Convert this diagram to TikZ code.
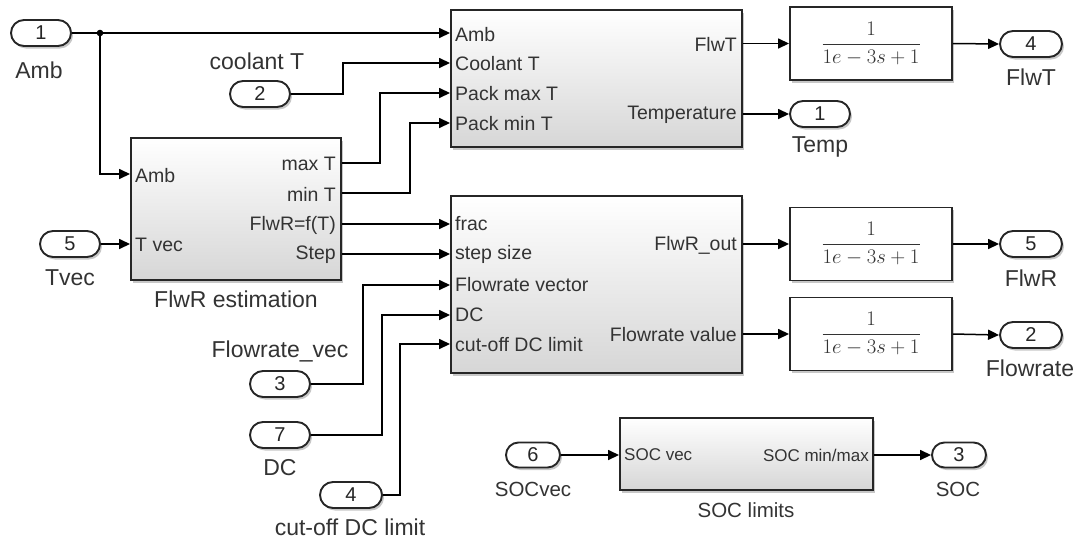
\documentclass[tikz,border=0pt]{standalone}
\usepackage{fontspec}
\setmainfont{Liberation Sans}
\usetikzlibrary{arrows.meta,shadows,shapes.misc}
\begin{document}
\begin{tikzpicture}[x=1pt,y=-1pt,
  wire/.style={line width=1.5pt, draw=black, -{Triangle[length=11pt,width=10pt]}},
  plain/.style={line width=1.5pt, draw=black},
  shad/.style={drop shadow={shadow xshift=2pt,shadow yshift=-2.5pt,opacity=0.22,fill=black}},
  blk/.style={draw=black!85, line width=1.9pt, top color=white, bottom color=black!16, shad, inner sep=0pt},
  tfblk/.style={draw=black!85, line width=1.9pt, fill=white, shad, minimum width=162pt, minimum height=73pt, inner sep=0pt, font=\fontsize{22.5}{24}\selectfont, text=black!80},
  port/.style={rounded rectangle, draw=black!85, line width=1.9pt, fill=white, shad, minimum width=60pt, minimum height=26pt, inner sep=0pt, font=\fontsize{20}{22}\selectfont, text=black!85},
  sport/.style={port, minimum width=54pt, minimum height=25pt},
  olab/.style={font=\fontsize{23}{25}\selectfont, text=black!80, inner sep=0pt},
  slab/.style={font=\fontsize{20.5}{22}\selectfont, text=black!80, inner sep=0pt},
  plab/.style={font=\fontsize{19.5}{21}\selectfont, text=black!80, inner sep=0pt},
  splab/.style={font=\fontsize{17}{19}\selectfont, text=black!80, inner sep=0pt},
]
\useasboundingbox (0,0) rectangle (1080,539);

% ---------- blocks ----------
\node[blk, minimum width=291pt, minimum height=137pt] (therm) at (596.5,78.5) {};
\node[blk, minimum width=210pt, minimum height=142pt] (est) at (236,209) {};
\node[blk, minimum width=291pt, minimum height=177pt] (calc) at (596.5,284.5) {};
\node[blk, minimum width=253pt, minimum height=72pt] (soc) at (746.5,454) {};
\node[tfblk] (tf1) at (871,43.5) {$\displaystyle\frac{1}{1e-3s+1}$};
\node[tfblk] (tf2) at (871,244) {$\displaystyle\frac{1}{1e-3s+1}$};
\node[tfblk] (tf3) at (871,334) {$\displaystyle\frac{1}{1e-3s+1}$};

% ---------- port labels ----------
\node[plab, anchor=west] (thl1) at (455,35) {Amb};
\node[plab, anchor=west] (thl2) at (455,64) {Coolant T};
\node[plab, anchor=west] (thl3) at (455,94) {Pack max T};
\node[plab, anchor=west] (thl4) at (455,124) {Pack min T};
\node[plab, anchor=east] (thr1) at (737,44) {FlwT};
\node[plab, anchor=east] (thr2) at (737,115) {Temperature};

\node[plab, anchor=west] (esl1) at (135,176) {Amb};
\node[plab, anchor=west] (esl2) at (135,245) {T vec};
\node[plab, anchor=east] (esr1) at (336,164) {max T};
\node[plab, anchor=east] (esr2) at (336,194) {min T};
\node[plab, anchor=east] (esr3) at (336,225) {FlwR=f(T)};
\node[plab, anchor=east] (esr4) at (336,255) {Step};
\node[olab] (estname) at (236,299) {FlwR estimation};

\node[plab, anchor=west] (cal1) at (455,224) {frac};
\node[plab, anchor=west] (cal2) at (455,254) {step size};
\node[plab, anchor=west] (cal3) at (455,285) {Flowrate vector};
\node[plab, anchor=west] (cal4) at (455,315) {DC};
\node[plab, anchor=west] (cal5) at (455,345) {cut-off DC limit};
\node[plab, anchor=east] (car1) at (737,245) {FlwR\_out};
\node[plab, anchor=east] (car2) at (737,335) {Flowrate value};

\node[splab, anchor=west] (socl) at (624,455) {SOC vec};
\node[splab, anchor=east] (socr) at (869,455) {SOC min/max};
\node[slab] (socname) at (746,510) {SOC limits};

% ---------- inports / outports ----------
\node[port] (in1) at (41,33) {1};
\node[olab] (in1l) at (39,70) {Amb};
\node[port] (in2) at (260,94) {2};
\node[olab] (in2l) at (257,61) {coolant T};
\node[port] (in5) at (70,244) {5};
\node[olab] (in5l) at (70,278) {Tvec};
\node[port] (in3) at (280,384) {3};
\node[olab] (in3l) at (280,351) {Flowrate\_vec};
\node[port] (in7) at (280,435) {7};
\node[olab] (in7l) at (280,468) {DC};
\node[port, minimum width=62pt] (in4) at (351,495) {4};
\node[olab] (in4l) at (350,527) {cut-off DC limit};
\node[sport] (in6) at (533,455) {6};
\node[slab] (in6l) at (533,489) {SOCvec};

\node[port, minimum width=62pt] (out4) at (1031,44) {4};
\node[olab] (out4l) at (1031,77) {FlwT};
\node[port] (out1) at (820,114) {1};
\node[olab] (out1l) at (820,147) {Temp};
\node[port, minimum width=62pt] (out5) at (1031,244) {5};
\node[olab] (out5l) at (1031,278) {FlwR};
\node[port, minimum width=62pt] (out2) at (1031,335) {2};
\node[olab] (out2l) at (1030,368) {Flowrate};
\node[sport] (out3) at (959,455) {3};
\node[slab] (out3l) at (958,489) {SOC};

% ---------- port coordinates ----------
\coordinate (th-i1) at (therm.west |- 0,33);
\coordinate (th-i2) at (therm.west |- 0,63);
\coordinate (th-i3) at (therm.west |- 0,93);
\coordinate (th-i4) at (therm.west |- 0,123);
\coordinate (th-o1) at (therm.east |- 0,43.5);
\coordinate (th-o2) at (therm.east |- 0,114);
\coordinate (es-i1) at (est.west |- 0,174);
\coordinate (es-i2) at (est.west |- 0,244);
\coordinate (es-o1) at (est.east |- 0,163);
\coordinate (es-o2) at (est.east |- 0,193);
\coordinate (es-o3) at (est.east |- 0,224);
\coordinate (es-o4) at (est.east |- 0,254);
\coordinate (ca-i1) at (calc.west |- 0,224);
\coordinate (ca-i2) at (calc.west |- 0,254);
\coordinate (ca-i3) at (calc.west |- 0,285);
\coordinate (ca-i4) at (calc.west |- 0,315);
\coordinate (ca-i5) at (calc.west |- 0,344);
\coordinate (ca-o1) at (calc.east |- 0,244);
\coordinate (ca-o2) at (calc.east |- 0,334);
\coordinate (so-i) at (soc.west |- 0,455);
\coordinate (so-o) at (soc.east |- 0,455);
\coordinate (j1) at (100,33);

% ---------- connectors ----------
\draw[plain] (in1.east) -- (j1);
\draw[wire] (j1) -- (th-i1);
\draw[wire] (j1) |- (es-i1);
\fill[black] (j1) circle (3.3pt);
\draw[wire] (in2.east) -- (343,94) |- (th-i2);
\draw[wire] (es-o1) -- (380,163) |- (th-i3);
\draw[wire] (es-o2) -- (410,193) |- (th-i4);
\draw[wire] (es-o3) -- (ca-i1);
\draw[wire] (es-o4) -- (ca-i2);
\draw[wire] (in5.east) -- (es-i2);
\draw[wire] (in3.east) -- (363,384) |- (ca-i3);
\draw[wire] (in7.east) -- (382,435) |- (ca-i4);
\draw[wire] (in4.east) -- (400,495) |- (ca-i5);
\draw[wire] (th-o1) -- (tf1.west);
\draw[wire] (th-o2) -- (out1.west);
\draw[wire] (ca-o1) -- (tf2.west);
\draw[wire] (ca-o2) -- (tf3.west);
\draw[wire] (tf1.east) -- (out4.west);
\draw[wire] (tf2.east) -- (out5.west);
\draw[wire] (tf3.east) -- (out2.west);
\draw[wire] (in6.east) -- (so-i);
\draw[wire] (so-o) -- (out3.west);
\end{tikzpicture}
\end{document}
